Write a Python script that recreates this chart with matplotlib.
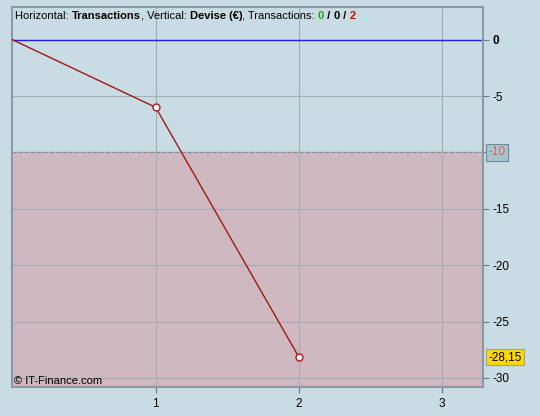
import matplotlib
matplotlib.use("Agg")
import matplotlib.pyplot as plt

plt.rcParams['font.family'] = ['Liberation Sans', 'DejaVu Sans']

x_vals = [0, 1, 2]
y_vals = [0, -6, -28.15]
x_ticks = [1, 2, 3]
y_ticks = [0, -5, -10, -15, -20, -25, -30]
threshold = -10
last_label = "-28,15"

bg = '#c9dce3'
fig = plt.figure(figsize=(5.4, 4.16), dpi=100, facecolor=bg)
ax = fig.add_axes([12/540, 1 - 387/416, (483-12)/540, (387-7)/416])
ax.set_facecolor(bg)
ax.set_xlim(-0.003, 3.285)
ax.set_ylim(-30.8, 2.9)

ax.axhspan(-40, threshold, color='#cfb8bf', zorder=0)
ax.grid(True, color='#a3adb3', linewidth=0.8, zorder=1)
ax.axhline(0, color='#2020e0', linewidth=1, zorder=2)
ax.axhline(threshold, color='#8a8f95', linewidth=0.9, linestyle=(0, (3, 2)), zorder=2)

ax.plot(x_vals, y_vals, color='#a01818', linewidth=1, zorder=3)
ax.plot(x_vals[1:], y_vals[1:], linestyle='none', marker='o', markersize=5,
        markerfacecolor='white', markeredgecolor='#b01818', markeredgewidth=1, zorder=4)

ax.set_xticks(x_ticks)
ax.set_xticklabels([str(t) for t in x_ticks])
ax.set_yticks(y_ticks)
ax.set_yticklabels(["" if t == threshold else str(t) for t in y_ticks])
ax.yaxis.tick_right()
ax.tick_params(axis='both', colors='#6a7a85', labelcolor='black', labelsize=8.5, length=4, width=0.8)
ax.tick_params(axis='y', pad=3)
ax.tick_params(axis='x', pad=4)
for lab in ax.get_yticklabels():
    if lab.get_text() == "0":
        lab.set_fontweight('bold')

for s in ax.spines.values():
    s.set_color('#8a9aa5')
    s.set_linewidth(1.5)

# threshold label box
ax.annotate(str(threshold), xy=(1, threshold), xycoords=('axes fraction', 'data'),
            xytext=(4, 0), textcoords='offset points', va='center', ha='left',
            fontsize=8.5, color='#e06060',
            bbox=dict(boxstyle='square,pad=0.2', facecolor='#a9c3cf', edgecolor='#6a8a9a', linewidth=0.8),
            annotation_clip=False)
# last value label
ax.annotate(last_label, xy=(1, y_vals[-1]), xycoords=('axes fraction', 'data'),
            xytext=(4, 0), textcoords='offset points', va='center', ha='left',
            fontsize=8.5, color='black',
            bbox=dict(boxstyle='square,pad=0.2', facecolor='#ffd800', edgecolor='#a0a0a0', linewidth=0.8),
            annotation_clip=False)

# header text
parts = [("Horizontal: ", 'normal', 'black'), ("Transactions", 'bold', 'black'),
         (", Vertical: ", 'normal', 'black'), ("Devise (€)", 'bold', 'black'),
         (", Transactions: ", 'normal', 'black'), ("0", 'bold', '#2a9a2a'),
         (" / ", 'bold', 'black'), ("0", 'bold', 'black'), (" / ", 'bold', 'black'),
         ("2", 'bold', '#b01010')]
renderer = fig.canvas.get_renderer()
xpos = 15
for txt, w, c in parts:
    t = fig.text(xpos/540, 1 - 16/416, txt, fontsize=8, fontweight=w, color=c, va='center', ha='left')
    bb = t.get_window_extent(renderer=renderer)
    xpos += bb.width

fig.text(14/540, 1 - 381/416, "© IT-Finance.com", fontsize=8, color='black', va='center', ha='left')

fig.savefig("out.png", dpi=100, facecolor=bg)
